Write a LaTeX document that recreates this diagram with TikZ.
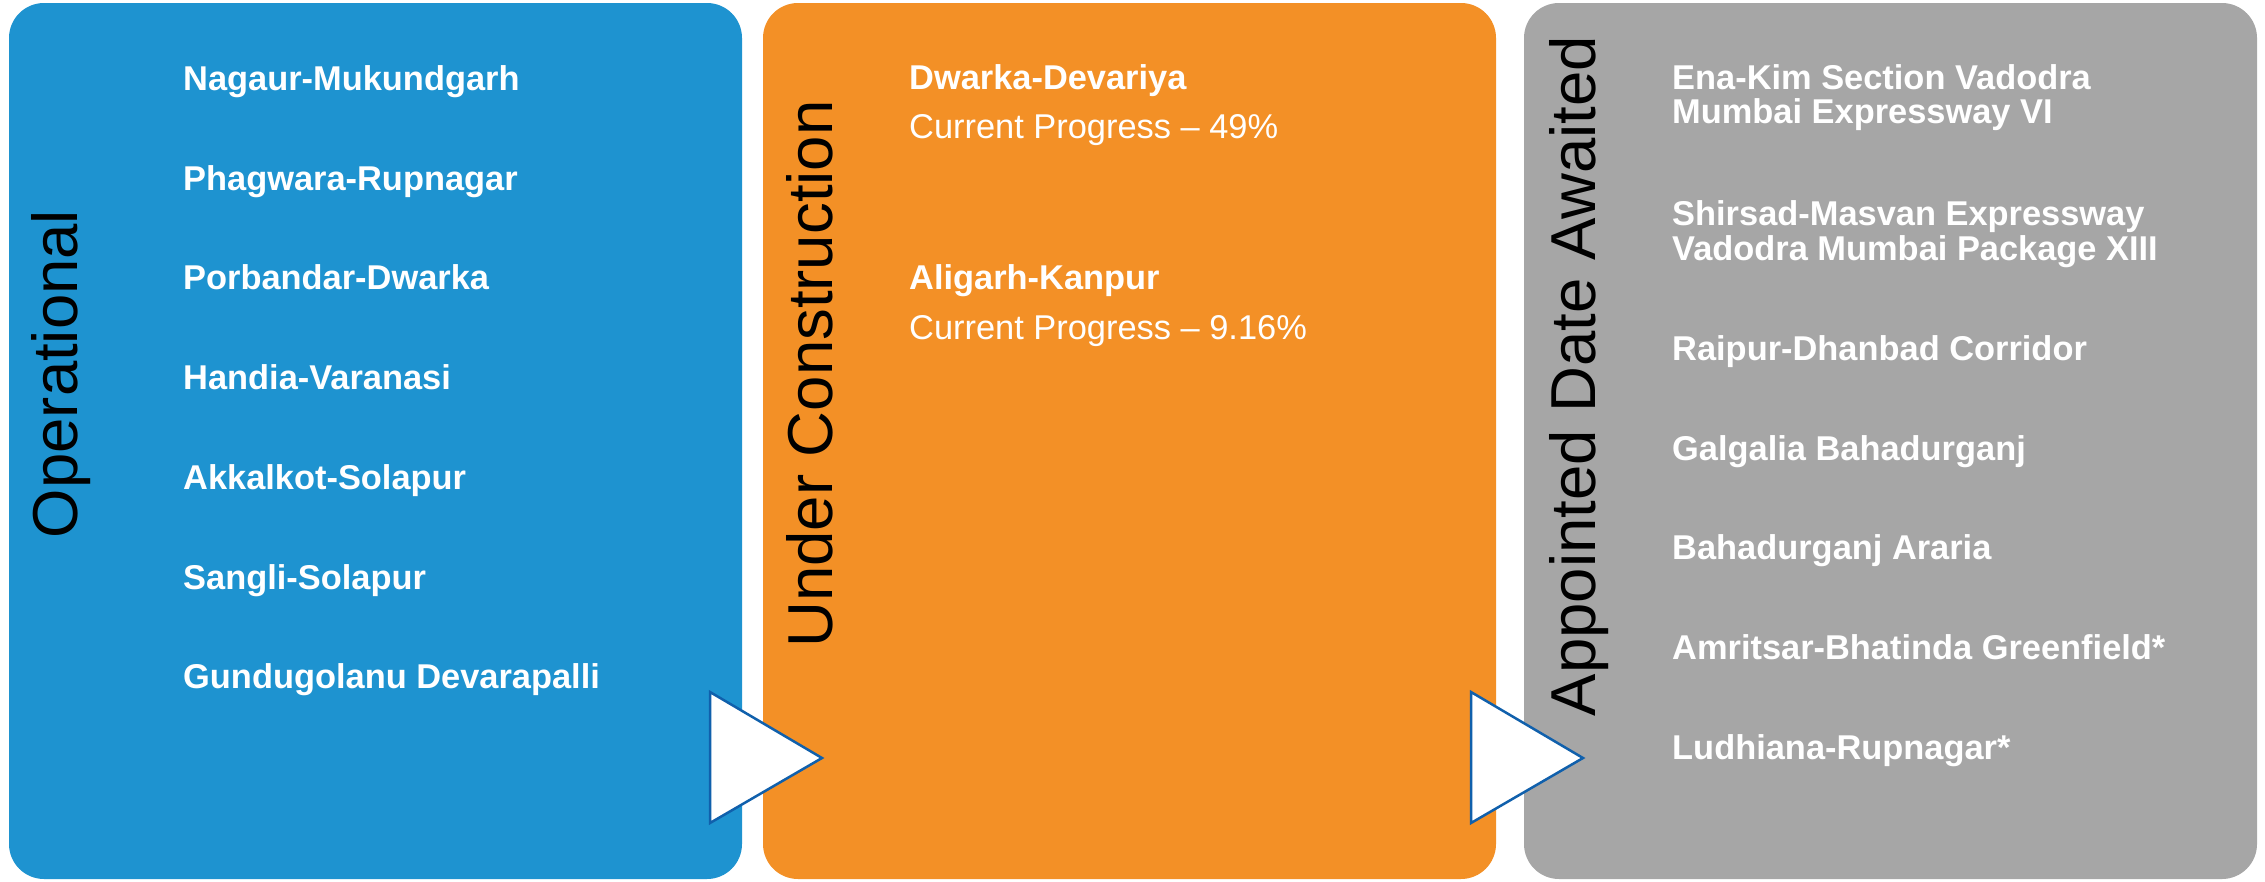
\documentclass[tikz,border=0pt]{standalone}
\usepackage{fontspec}
\setmainfont{Liberation Sans}
\definecolor{opblue}{HTML}{1E93D0}
\definecolor{ucorange}{HTML}{F39026}
\definecolor{adgray}{HTML}{A6A6A6}
\definecolor{arrowline}{HTML}{1060AC}
\tikzset{
  panel/.style={draw=none, rounded corners=35pt, minimum width=733pt, minimum height=876pt, inner sep=0pt},
  heading/.style={rotate=90, anchor=base, inner sep=0pt, text=black, font=\fontsize{63.5}{63.5}\selectfont},
  item/.style={anchor=base west, inner sep=0pt, text=white, font=\fontsize{34.4}{34.4}\selectfont\bfseries},
  plain/.style={anchor=base west, inner sep=0pt, text=white, font=\fontsize{34.4}{34.4}\selectfont},
  flowmark/.style={fill=white, draw=arrowline, line width=2.5pt, line join=miter}
}
\begin{document}
\begin{tikzpicture}[x=1pt, y=-1pt]
\useasboundingbox (0,0) rectangle (2265,881);

% three stage panels
\node[panel, fill=opblue]   (op) at (375.5,441) {};
\node[panel, fill=ucorange] (uc) at (1129.5,441) {};
\node[panel, fill=adgray]   (ad) at (1890.5,441) {};

% stage headings, reading bottom to top
\node[heading] (opT) at (77,374)   {Operational};
\node[heading] (ucT) at (832,374)  {Under Construction};
\node[heading] (adT) at (1595,376) {Appointed Date Awaited};

% operational projects
\node[item] (o1) at (183,90)  {Nagaur-Mukundgarh};
\node[item] (o2) at (183,190) {Phagwara-Rupnagar};
\node[item] (o3) at (183,289) {Porbandar-Dwarka};
\node[item] (o4) at (183,389) {Handia-Varanasi};
\node[item] (o5) at (183,489) {Akkalkot-Solapur};
\node[item] (o6) at (183,589) {Sangli-Solapur};
\node[item] (o7) at (183,688) {Gundugolanu Devarapalli};

% projects under construction
\node[item]  (u1) at (909,89)  {Dwarka-Devariya};
\node[plain] (u1p) at (909,138) {Current Progress – 49\%};
\node[item]  (u2) at (909,289) {Aligarh-Kanpur};
\node[plain] (u2p) at (909,339) {Current Progress – 9.16\%};

% projects awaiting the appointed date
\node[item] (a1a) at (1672,89)  {Ena-Kim Section Vadodra};
\node[item] (a1b) at (1672,123) {Mumbai Expressway VI};
\node[item] (a2a) at (1672,225) {Shirsad-Masvan Expressway};
\node[item] (a2b) at (1672,260) {Vadodra Mumbai Package XIII};
\node[item] (a3)  at (1672,360) {Raipur-Dhanbad Corridor};
\node[item] (a4)  at (1672,460) {Galgalia Bahadurganj};
\node[item] (a5)  at (1672,559) {Bahadurganj Araria};
\node[item] (a6)  at (1672,659) {Amritsar-Bhatinda Greenfield*};
\node[item] (a7)  at (1672,759) {Ludhiana-Rupnagar*};

% progression markers between the stages
\draw[flowmark] (710,692) -- (822,758) -- (710,823) -- cycle;
\draw[flowmark] (1471,692) -- (1583,758) -- (1471,823) -- cycle;
\end{tikzpicture}
\end{document}
